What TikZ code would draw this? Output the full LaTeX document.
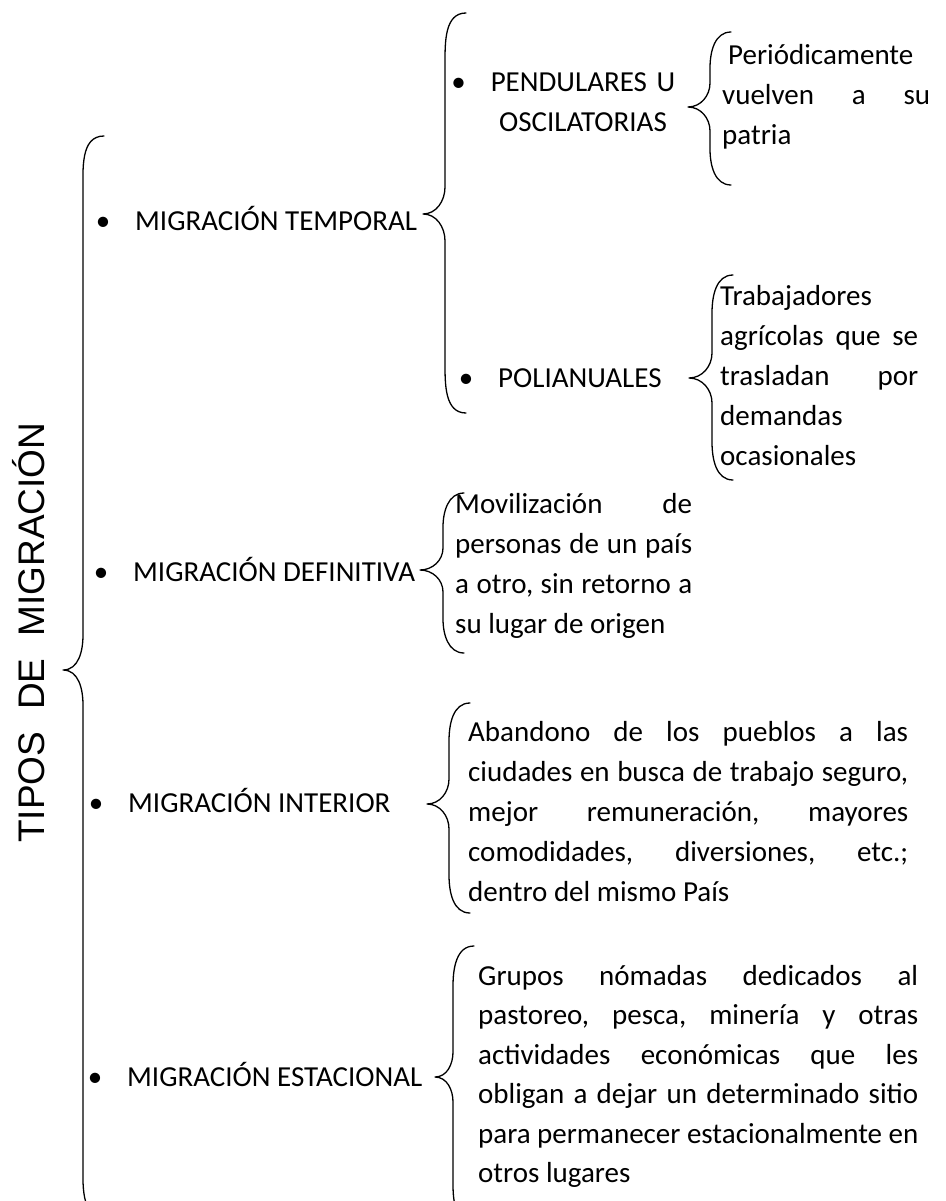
\documentclass[tikz,border=0pt]{standalone}
\usepackage{fontspec}
\setmainfont{Carlito}
\newfontfamily\titlefont{Liberation Sans}
\usetikzlibrary{calc}

\tikzset{
  brace/.style={line width=1.3pt, line cap=round},
  item/.style={font=\fontsize{29}{40}\selectfont, inner sep=0pt, anchor=base west},
  desc/.style={font=\fontsize{29}{40}\selectfont, inner sep=0pt, anchor=base west, align=flush left},
  title/.style={font=\titlefont\fontsize{37}{40}\selectfont, inner sep=0pt, anchor=base west, rotate=90},
}
\newcommand{\bul}{\llap{\textbullet\hspace{25pt}}}
\newcommand{\wbrace}[5]{\draw[brace] (#1) to[out=180,in=90] ($(#1)+(-21,-#4)$)
    -- ($(#2 -| #1)+(-21,#5)$) to[out=-90,in=0] (#2)
    to[out=0,in=90] ($(#2 -| #1)+(-21,-#5)$)
    -- ($(#3)+(-21,#4)$) to[out=-90,in=180] (#3);}

\begin{document}
\begin{tikzpicture}[x=1pt, y=1pt, line join=round]
    \useasboundingbox (0,0) rectangle (945,-1201);
    \clip (0,0) rectangle (945,-1201);

    \node[title] (tipos) at (44,-843) {TIPOS\hspace{22pt}DE\hspace{22pt}MIGRACIÓN};

    \node[item] (temporal) at (135,-230) {\bul MIGRACIÓN TEMPORAL};
    \node[item] (definitiva) at (133,-581) {\bul MIGRACIÓN DEFINITIVA};
    \node[item] (interior) at (128,-812) {\bul MIGRACIÓN INTERIOR};
    \node[item] (estacional) at (127,-1086) {\bul MIGRACIÓN ESTACIONAL};

    \node[item, anchor=base, text width=190pt, align=center] (pendular) at (583,-92) {\bul PENDULARES U\\OSCILATORIAS};
    \node[item] (polianual) at (498,-387) {\bul POLIANUALES};

    \node[desc, text width=208pt] (patria) at (722,-65) {\hspace*{6pt}Periódicamente\\vuelven\hfill a\hfill su\\patria};
    \node[desc, text width=198pt] (agricola) at (720,-305) {Trabajadores\\agrícolas\hfill que\hfill se\\trasladan\hfill por\\demandas\\ocasionales};
    \node[desc, text width=237pt] (retorno) at (455,-513) {Movilización\hfill de\\personas\hfill de\hfill un\hfill país\\a\hfill otro,\hfill sin\hfill retorno\hfill a\\su lugar de origen};
    \node[desc, text width=440pt] (ciudad) at (468,-741) {Abandono\hfill de\hfill los\hfill pueblos\hfill a\hfill las\\ciudades\hfill en\hfill busca\hfill de\hfill trabajo\hfill seguro,\\mejor\hfill remuneración,\hfill mayores\\comodidades,\hfill diversiones,\hfill etc.;\\dentro del mismo País};
    \node[desc, text width=440pt, font=\fontsize{29}{39.5}\selectfont] (nomada) at (478,-985) {Grupos\hfill nómadas\hfill dedicados\hfill al\\pastoreo,\hfill pesca,\hfill minería\hfill y\hfill otras\\actividades\hfill económicas\hfill que\hfill les\\obligan\hfill a\hfill dejar\hfill un\hfill determinado\hfill sitio\\para\hfill permanecer\hfill estacionalmente\hfill en\\otros lugares};

    \coordinate (Gt) at (104,-136);
    \coordinate (Gm) at (63,-670);
    \coordinate (Gb) at (104,-1217);
    \coordinate (Tt) at (466,-13);
    \coordinate (Tm) at (423,-214);
    \coordinate (Tb) at (466,-413);
    \coordinate (Pt) at (731,-32);
    \coordinate (Pm) at (688,-107);
    \coordinate (Pb) at (731,-185);
    \coordinate (At) at (733,-275);
    \coordinate (Am) at (689,-378);
    \coordinate (Ab) at (733,-480);
    \coordinate (Dt) at (464,-493);
    \coordinate (Dm) at (420,-570);
    \coordinate (Db) at (464,-653);
    \coordinate (It) at (470,-703);
    \coordinate (Im) at (427,-804);
    \coordinate (Ib) at (470,-913);
    \coordinate (Et) at (474,-946);
    \coordinate (Em) at (435,-1077);
    \coordinate (Eb) at (474,-1225);

    \wbrace{Gt}{Gm}{Gb}{57}{35}
    \wbrace{Tt}{Tm}{Tb}{50}{27}
    \wbrace{Pt}{Pm}{Pb}{36}{24}
    \wbrace{At}{Am}{Ab}{38}{25}
    \wbrace{Dt}{Dm}{Db}{34}{22}
    \wbrace{It}{Im}{Ib}{38}{25}
    \wbrace{Et}{Em}{Eb}{40}{25}
\end{tikzpicture}
\end{document}
